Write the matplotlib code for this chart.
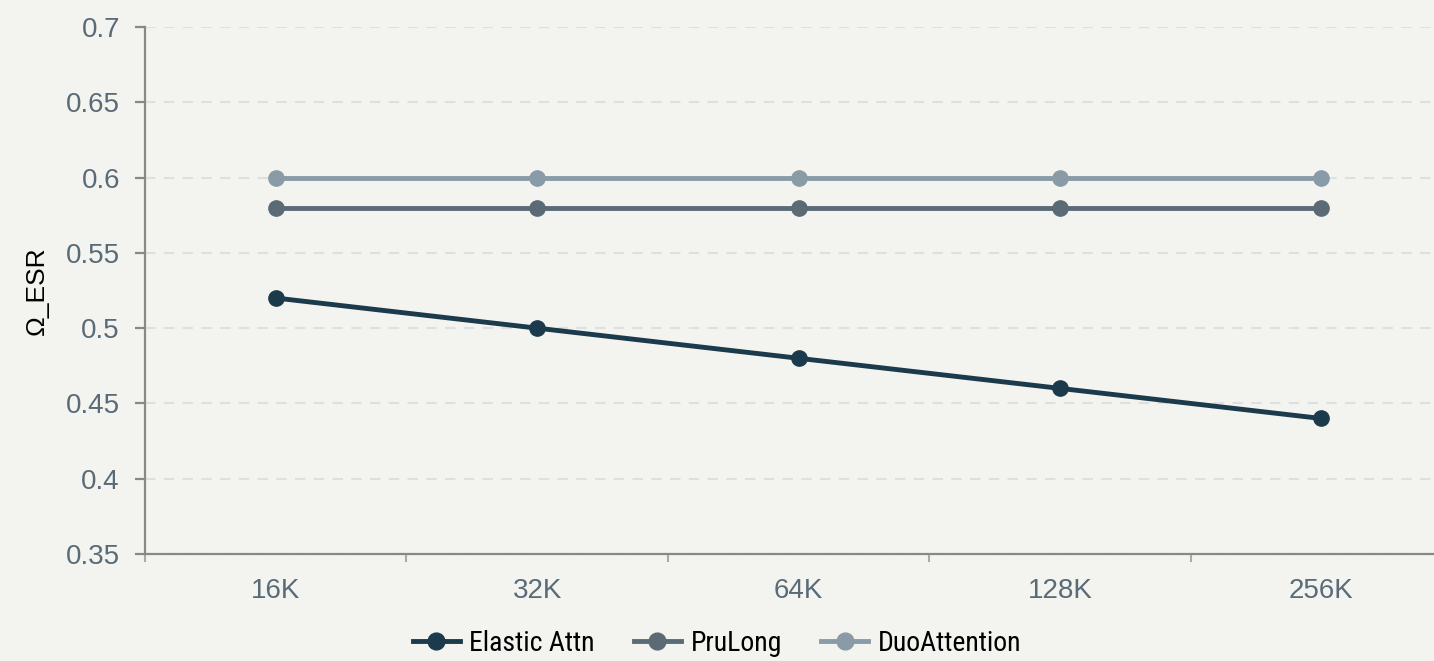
import numpy as np
import matplotlib.pyplot as plt
from matplotlib import font_manager

# context lengths and Omega_ESR per method
lengths = ['16K', '32K', '64K', '128K', '256K']
elastic_attn = [0.52, 0.50, 0.48, 0.46, 0.44]
prulong = [0.58, 0.58, 0.58, 0.58, 0.58]
duo_attention = [0.60, 0.60, 0.60, 0.60, 0.60]


def pick_font(names):
    for n in names:
        try:
            font_manager.findfont(n, fallback_to_default=False)
            return n
        except ValueError:
            pass
    return 'DejaVu Sans'


legend_font = pick_font(['Liberation Sans Narrow', 'Roboto Condensed', 'Open Sans', 'Liberation Sans'])

bg = '#f3f4ef'
fig = plt.figure(figsize=(14.34, 6.61), dpi=100, facecolor=bg)
ax = fig.add_axes([145 / 1434, 107 / 661, 1307 / 1434, 527 / 661])
ax.set_facecolor(bg)

x = np.arange(len(lengths))
ax.plot(x, elastic_attn, color='#1b3a4b', lw=3.5, marker='o', ms=11, label='Elastic Attn', zorder=3)
ax.plot(x, prulong, color='#5b6b76', lw=3.5, marker='o', ms=11, label='PruLong', zorder=3)
ax.plot(x, duo_attention, color='#8a9ba8', lw=3.5, marker='o', ms=11, label='DuoAttention', zorder=3)

ax.set_xlim(-0.5, len(lengths) - 0.5)
ax.set_ylim(0.35, 0.7)
yt = [0.35, 0.4, 0.45, 0.5, 0.55, 0.6, 0.65, 0.7]
ax.set_yticks(yt)
ax.set_yticklabels(['0.35', '0.4', '0.45', '0.5', '0.55', '0.6', '0.65', '0.7'])
ax.set_xticks(x)
ax.set_xticklabels(lengths)
ax.set_xticks(np.arange(-0.5, len(lengths)), minor=True)

ax.grid(axis='y', color='#dedfe1', ls=(0, (5, 4)), lw=1.5, zorder=0)
for s in ['top', 'right']:
    ax.spines[s].set_visible(False)
for s in ['left', 'bottom']:
    ax.spines[s].set_color('#888888')
    ax.spines[s].set_linewidth(1.6)

ax.tick_params(axis='y', length=7, width=1.6, color='#888888', labelcolor='#5a6b78',
               labelsize=20, pad=11)
ax.tick_params(axis='x', which='major', length=0, labelcolor='#5a6b78', labelsize=20, pad=17)
ax.tick_params(axis='x', which='minor', length=6, width=1.5, color='#aaaaaa')
for lab in ax.get_xticklabels() + ax.get_yticklabels():
    lab.set_family('Liberation Sans')

ax.set_ylabel('Ω_ESR', fontsize=19, family='Liberation Sans', labelpad=12)

fig.legend(loc='center', bbox_to_anchor=(0.5, 0.027), ncol=3, frameon=False,
           prop={'family': [legend_font, 'DejaVu Sans'], 'size': 20},
           handlelength=1.7, columnspacing=1.4, handletextpad=0.35, markerscale=1.1)

fig.savefig('out.png', dpi=100, facecolor=bg)
